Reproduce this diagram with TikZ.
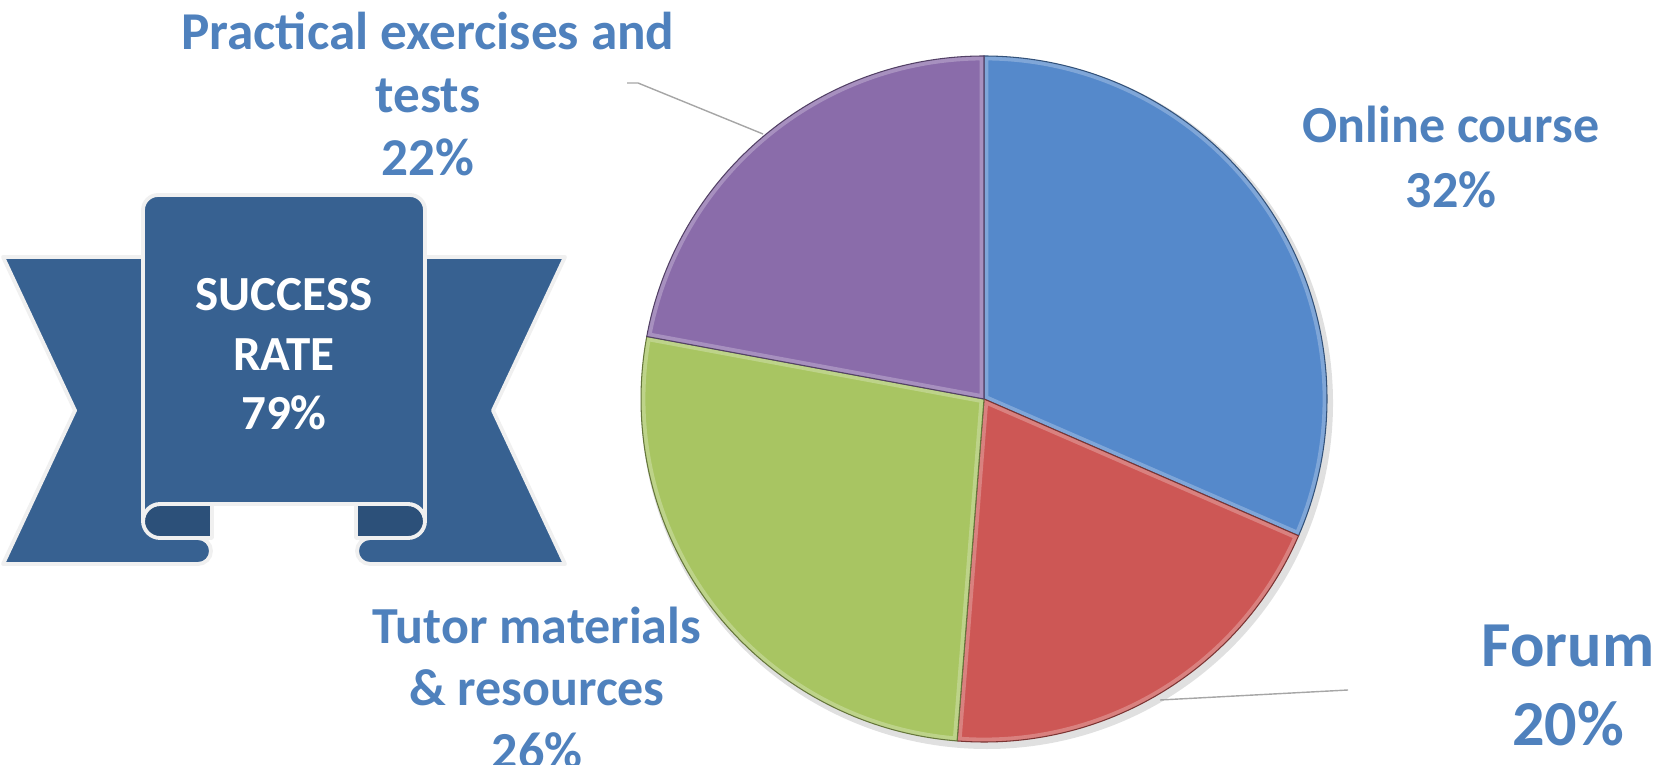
\documentclass[tikz,border=0pt]{standalone}
\usepackage{fontspec}
\setmainfont{Carlito}
\usepackage{tikz}
\usetikzlibrary{calc}
\definecolor{ribbonblue}{HTML}{376191}
\definecolor{rolldark}{HTML}{2C5079}
\definecolor{rimgray}{HTML}{F0F0F0}
\definecolor{labelblue}{HTML}{4F81BD}
\definecolor{pieblue}{HTML}{5589CB}
\definecolor{piered}{HTML}{CD5755}
\definecolor{piegreen}{HTML}{A8C562}
\definecolor{piepurple}{HTML}{8A6CAA}
\definecolor{leadergray}{HTML}{A6A6A6}
\tikzset {
    band/.style = {fill=ribbonblue, draw=rimgray, line width=2.2pt, line join=round},
    roll/.style = {fill=rolldark, draw=rimgray, line width=2.2pt, line join=round},
    lbl/.style = {text=labelblue, align=center, inner sep=0pt, anchor=base},
    leader/.style = {draw=leadergray, line width=0.8pt}
    %slice/.style={draw=black}
}

\begin{document}
\begin{tikzpicture}[x=0.02cm, y=0.02cm]
	\useasboundingbox (0,0) rectangle (1655,764);
	\begin{scope}
	% ribbon tails
	\draw[band] (3,507) -- (180,507) -- (180,226) -- (198,226) arc[start angle=90, end angle=-90, radius=13] -- (3,200) -- (75,353.5) -- cycle;
	\draw[band] (565,507) -- (388,507) -- (388,226) -- (370,226) arc[start angle=90, end angle=270, radius=13] -- (565,200) -- (493,353.5) -- cycle;
	% rolls
	\draw[roll] (212,260) -- (160,260) arc[start angle=90, end angle=270, radius=17] -- (212,226) -- cycle;
	\draw[roll] (356,260) -- (408,260) arc[start angle=90, end angle=-90, radius=17] -- (356,226) -- cycle;
	% panel
	\draw[band] (143,243) -- (143,554) arc[start angle=180, end angle=90, radius=15] -- (410,569) arc[start angle=90, end angle=0, radius=15] -- (425,243) arc[start angle=0, end angle=90, radius=17] -- (160,260) arc[start angle=90, end angle=180, radius=17] -- cycle;
	\node (sr) [lbl, text=white, font=\bfseries\fontsize{27.9}{34.1}\selectfont] at (284,334) {SUCCESS\\RATE\\79\%};
	\end{scope}

	\begin{scope}[shift={(984,365)}]
	\fill[black, opacity=0.12] (3,-4) circle[radius=346];
	\foreach \a/\b/\c in {90/-23.5/pieblue, -23.5/-94.5/piered, -94.5/-190.5/piegreen, -190.5/-270/piepurple} {
		\fill[\c] (0,0) -- (\a:343) arc[start angle=\a, end angle=\b, radius=343] -- cycle;
		\begin{scope}
		\clip (0,0) -- (\a:343) arc[start angle=\a, end angle=\b, radius=343] -- cycle;
		\draw[white, opacity=0.25, line width=5pt] (0,0) -- (\a:343) arc[start angle=\a, end angle=\b, radius=343] -- cycle;
		\end{scope}
		\draw[\c!60!black, line width=0.6pt] (0,0) -- (\a:343) arc[start angle=\a, end angle=\b, radius=343] -- cycle;
	}
	\end{scope}

	% leaders
	\coordinate (pe0) at (763,630);
	\coordinate (pe1) at (638,681);
	\coordinate (pe2) at (627,681);
	\draw[leader] (pe0) -- (pe1) -- (pe2);
	\coordinate (fo0) at (1160,64);
	\coordinate (fo1) at (1348,74);
	\draw[leader] (fo0) -- (fo1);

	% labels
	\node (pe) [lbl, font=\bfseries\fontsize{30.3}{35.9}\selectfont] at (428,588) {Practical exercises and\\tests\\22\%};
	\node (oc) [lbl, font=\bfseries\fontsize{29.6}{37}\selectfont] at (1451,556) {Online course\\32\%};
	\node (fo) [lbl, font=\bfseries\fontsize{36.5}{44.4}\selectfont] at (1568,19) {Forum\\20\%};
	\node (tm) [lbl, font=\bfseries\fontsize{29.6}{35.3}\selectfont] at (537,-4) {Tutor materials\\\& resources\\26\%};
\end{tikzpicture}
\end{document}
